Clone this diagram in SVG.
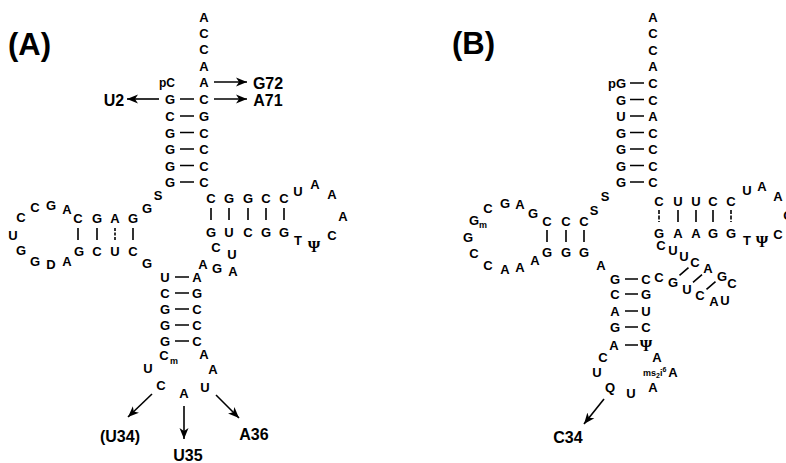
<svg xmlns="http://www.w3.org/2000/svg" width="786" height="463" viewBox="0 0 786 463">
<style>
text{font-family:"Liberation Sans",Arial,sans-serif;font-weight:bold;fill:#000}
.n{font-size:13px;text-anchor:middle}
.s{font-size:12px;text-anchor:middle}
.lab{font-size:16px;text-anchor:middle}
.ttl{font-size:31px}
.psi{font-family:"Liberation Serif","DejaVu Serif",serif;font-weight:bold;font-size:16px;text-anchor:middle}
.sub{font-size:9px}
.bond{stroke:#000;stroke-width:1.6;fill:none}
.arr{stroke:#000;stroke-width:1.6;fill:none;marker-end:url(#ah)}
</style>
<defs>
<marker id="ah" markerUnits="userSpaceOnUse" markerWidth="12" markerHeight="10" refX="11" refY="5" orient="auto">
<path d="M0,0.5 L11,5 L0,9.5 L3,5 Z" fill="#000"/>
</marker>
</defs>
<rect width="786" height="463" fill="#fff"/>

<!-- ================= PANEL A ================= -->
<g id="titleA"><text class="ttl" x="8" y="55">(A)</text></g>

<g id="A-acceptor">
<text class="n" x="204" y="22">A</text>
<text class="n" x="204" y="38">C</text>
<text class="n" x="204" y="54">C</text>
<text class="n" x="204" y="71">A</text>
<text class="n" x="204" y="87">A</text>
<text class="s" x="167" y="87">pC</text>
<text class="n" x="170" y="104">G</text><text class="n" x="204" y="104">C</text>
<text class="n" x="170" y="121">C</text><text class="n" x="204" y="121">G</text>
<text class="n" x="170" y="137.5">G</text><text class="n" x="204" y="137.5">C</text>
<text class="n" x="170" y="154">G</text><text class="n" x="204" y="154">C</text>
<text class="n" x="170" y="170.5">G</text><text class="n" x="204" y="170.5">C</text>
<text class="n" x="170" y="187">G</text><text class="n" x="204" y="187">C</text>
</g>

<g id="A-labels">
<text class="lab" x="114" y="106">U2</text>
<text class="lab" x="268" y="89">G72</text>
<text class="lab" x="268" y="106">A71</text>
<text class="lab" x="120" y="442">(U34)</text>
<text class="lab" x="188" y="461">U35</text>
<text class="lab" x="254" y="440">A36</text>
</g>

<g id="A-Darm">
<text class="n" x="158" y="200">S</text>
<text class="n" x="147" y="213">G</text>
<text class="n" x="78" y="223">C</text><text class="n" x="97" y="223">G</text><text class="n" x="115" y="223">A</text><text class="n" x="133" y="223">G</text>
<text class="n" x="79" y="256">G</text><text class="n" x="97" y="256">C</text><text class="n" x="115" y="256">U</text><text class="n" x="133" y="256">C</text>
<text class="n" x="67" y="214">A</text>
<text class="n" x="51" y="210">G</text>
<text class="n" x="35" y="212">C</text>
<text class="n" x="21" y="222">C</text>
<text class="n" x="13" y="240">U</text>
<text class="n" x="21" y="255">G</text>
<text class="n" x="35" y="266">G</text>
<text class="n" x="51" y="269">D</text>
<text class="n" x="67" y="266">A</text>
<text class="n" x="147" y="268">G</text>
</g>

<g id="A-Tarm">
<text class="n" x="211" y="203">C</text><text class="n" x="229" y="203">G</text><text class="n" x="248" y="203">G</text><text class="n" x="266" y="203">C</text><text class="n" x="284" y="203">C</text>
<text class="n" x="211" y="237">G</text><text class="n" x="229" y="237">U</text><text class="n" x="248" y="237">C</text><text class="n" x="266" y="237">G</text><text class="n" x="284" y="237">G</text>
<text class="n" x="298" y="196">U</text>
<text class="n" x="315" y="189">A</text>
<text class="n" x="332" y="199">A</text>
<text class="n" x="343" y="221">A</text>
<text class="n" x="332" y="240">C</text>
<text class="psi" x="314" y="252">Ψ</text>
<text class="n" x="298" y="245">T</text>
</g>

<g id="A-variable">
<text class="n" x="216" y="252">C</text>
<text class="n" x="232" y="259">U</text>
<text class="n" x="233" y="276">A</text>
<text class="n" x="217" y="273">G</text>
<text class="n" x="203" y="269">A</text>
</g>

<g id="A-anticodon">
<text class="n" x="165" y="282">U</text><text class="n" x="197" y="282">A</text>
<text class="n" x="165" y="298">C</text><text class="n" x="197" y="298">G</text>
<text class="n" x="165" y="314">G</text><text class="n" x="197" y="314">C</text>
<text class="n" x="165" y="330">G</text><text class="n" x="197" y="330">C</text>
<text class="n" x="165" y="346">G</text><text class="n" x="197" y="346">C</text>
<text class="n" x="164" y="360">C</text><text class="sub" x="170" y="364">m</text>
<text class="n" x="148" y="373">U</text>
<text class="n" x="161" y="390">C</text>
<text class="n" x="184" y="398">A</text>
<text class="n" x="205" y="392">U</text>
<text class="n" x="213" y="374">A</text>
<text class="n" x="204" y="359">A</text>
</g>

<!-- ================= PANEL B ================= -->
<g id="titleB"><text class="ttl" x="452" y="54">(B)</text></g>

<g id="B-acceptor">
<text class="n" x="653" y="22">A</text>
<text class="n" x="653" y="38">C</text>
<text class="n" x="653" y="55">C</text>
<text class="n" x="653" y="71">A</text>
<text class="n" x="626" y="88" style="text-anchor:end">pG</text><text class="n" x="653" y="88">C</text>
<text class="n" x="621" y="104.5">G</text><text class="n" x="653" y="104.5">C</text>
<text class="n" x="621" y="121">U</text><text class="n" x="653" y="121">A</text>
<text class="n" x="621" y="137.5">G</text><text class="n" x="653" y="137.5">C</text>
<text class="n" x="621" y="154">G</text><text class="n" x="653" y="154">C</text>
<text class="n" x="621" y="170.5">G</text><text class="n" x="653" y="170.5">C</text>
<text class="n" x="621" y="187">G</text><text class="n" x="653" y="187">C</text>
</g>

<g id="B-Darm">
<text class="n" x="605" y="201">S</text>
<text class="n" x="594" y="215">S</text>
<text class="n" x="547" y="226">C</text><text class="n" x="566" y="226">C</text><text class="n" x="584" y="226">C</text>
<text class="n" x="547" y="257">G</text><text class="n" x="566" y="257">G</text><text class="n" x="584" y="257">G</text>
<text class="n" x="601" y="270">A</text>
<text class="n" x="533" y="218">G</text>
<text class="n" x="520" y="209">A</text>
<text class="n" x="505" y="208">G</text>
<text class="n" x="488" y="213">C</text>
<text class="n" x="474" y="225">G</text><text class="sub" x="479" y="228">m</text>
<text class="n" x="468" y="242">G</text>
<text class="n" x="474" y="258">C</text>
<text class="n" x="488" y="270">C</text>
<text class="n" x="505" y="274">A</text>
<text class="n" x="520" y="272">A</text>
<text class="n" x="535" y="265">A</text>
</g>

<g id="B-Tarm">
<text class="n" x="659" y="206">C</text><text class="n" x="678" y="206">U</text><text class="n" x="696" y="206">U</text><text class="n" x="713" y="206">C</text><text class="n" x="731" y="206">C</text>
<text class="n" x="659" y="238">G</text><text class="n" x="678" y="238">A</text><text class="n" x="696" y="238">A</text><text class="n" x="713" y="238">G</text><text class="n" x="731" y="238">G</text>
<text class="n" x="747" y="195">U</text>
<text class="n" x="762" y="191">A</text>
<text class="n" x="778" y="201">A</text>
<text class="n" x="788" y="220">C</text>
<text class="n" x="778" y="239">C</text>
<text class="psi" x="762" y="247">Ψ</text>
<text class="n" x="747" y="245">T</text>
</g>

<g id="B-variable">
<text class="n" x="661" y="250">C</text>
<text class="n" x="673" y="255">U</text>
<text class="n" x="684" y="261">U</text>
<text class="n" x="695" y="267">C</text>
<text class="n" x="708" y="273">A</text>
<text class="n" x="722" y="281">G</text>
<text class="n" x="732" y="288">C</text>
<text class="n" x="725" y="305">U</text>
<text class="n" x="714" y="306">A</text>
<text class="n" x="700" y="300">C</text>
<text class="n" x="687" y="294">U</text>
<text class="n" x="673" y="287">G</text>
<text class="n" x="659" y="282">C</text>
</g>

<g id="B-anticodon">
<text class="n" x="615" y="284">G</text><text class="n" x="646" y="284">C</text>
<text class="n" x="615" y="299">C</text><text class="n" x="646" y="299">G</text>
<text class="n" x="615" y="316">A</text><text class="n" x="646" y="316">U</text>
<text class="n" x="615" y="332">G</text><text class="n" x="646" y="332">C</text>
<text class="n" x="614" y="350">A</text><text class="psi" x="646" y="351">Ψ</text>
<text class="n" x="603" y="362">C</text>
<text class="n" x="657" y="362">A</text>
<text class="n" x="597" y="377">U</text>
<text class="sub" x="643" y="376">ms<tspan font-size="7" dy="2">2</tspan><tspan dy="-2">i</tspan><tspan font-size="7" dy="-4">6</tspan></text>
<text class="n" x="673" y="377">A</text>
<text class="n" x="610" y="392">Q</text>
<text class="n" x="631" y="398">U</text>
<text class="n" x="653" y="392">A</text>
</g>

<g id="B-labels">
<text class="lab" x="568" y="443">C34</text>
</g>

<!-- ================= CONNECTORS ================= -->
<g id="connectors">
<path class="bond" d="M180,99H194M180,116H194M180,132.5H194M180,149H194M180,165.5H194M180,182H194"/>
<path class="bond" d="M78,228V240M97,228V240M133,228V240"/>
<path class="bond" d="M115,228V240" stroke-dasharray="3,1.5"/>
<path class="bond" d="M211,208V220M229,208V220M248,208V220M266,208V220M284,208V220"/>
<path class="bond" d="M175,277H189M175,293H189M175,309H189M175,325H189M175,341H189"/>
<line class="arr" x1="159" y1="99" x2="127" y2="99"/>
<line class="arr" x1="214" y1="82" x2="247" y2="82"/>
<line class="arr" x1="214" y1="99" x2="247" y2="99"/>
<line class="arr" x1="152" y1="394" x2="128" y2="417"/>
<line class="arr" x1="184" y1="406" x2="184" y2="439"/>
<line class="arr" x1="216" y1="395" x2="239" y2="418"/>

<path class="bond" d="M630,83H644M630,99.5H644M630,116H644M630,132.5H644M630,149H644M630,165.5H644M630,182H644"/>
<path class="bond" d="M547,230V242M566,230V242M584,230V242"/>
<path class="bond" d="M678,210V222M696,210V222M713,210V222"/>
<path class="bond" d="M659,210V222M731,210V222" stroke-dasharray="4,1.5"/>
<path class="bond" d="M679.5,275.4L688.5,267.6M693,282.4L702,274.6M706.5,289.4L715.5,281.6"/>
<path class="bond" d="M625,279H638M625,294H638M625,311H638M625,327H638M625,345H638"/>
<line class="arr" x1="604" y1="399" x2="584" y2="424"/>
</g>
</svg>
